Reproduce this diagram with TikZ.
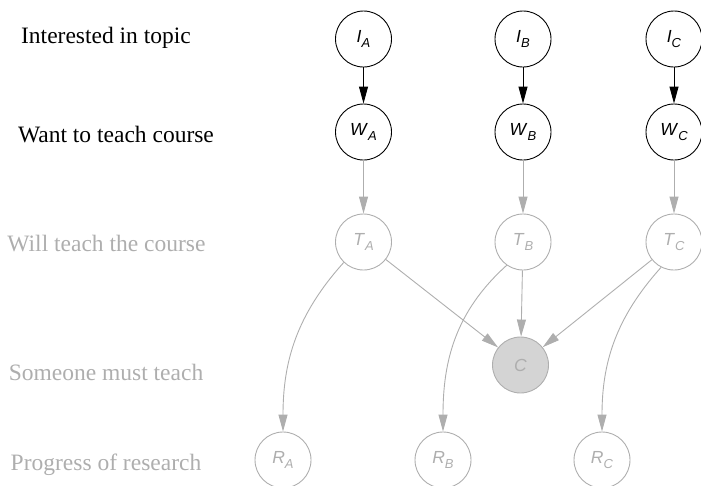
\documentclass[tikz,border=0pt]{standalone}
\usepackage{fontspec}
\setmainfont{Liberation Serif}
\newfontfamily\nodefont{Liberation Sans}
\usetikzlibrary{arrows.meta}
\definecolor{fade}{HTML}{AEAEAE}
\definecolor{cfill}{HTML}{D4D4D4}
% variable name with an italic subscript
\newcommand{\nodelbl}[2]{\textit{#1}\raisebox{-0.3em}{\fontsize{13}{13}\selectfont\itshape #2}}
\begin{document}
\begin{tikzpicture}[x=1pt,y=-1pt,
  rv/.style={circle, draw=black, minimum size=56pt, inner sep=0pt, line width=0.9pt,
             font=\nodefont\fontsize{17.5}{17.5}\selectfont},
  hidden/.style={rv, draw=fade, text=fade},
  obs/.style={hidden, fill=cfill},
  link/.style={-{Triangle[length=17pt,width=9pt]}, line width=0.9pt},
  fadelink/.style={link, draw=fade},
  rowlabel/.style={anchor=base, inner sep=0pt, font=\fontsize{23.5}{23.5}\selectfont},
]
\useasboundingbox (0,0) rectangle (701,485);

% row captions
\node[rowlabel] (l1) at (106,43.3) {Interested in topic};
\node[rowlabel] (l2) at (116,142.7) {Want to teach course};
\node[rowlabel, text=fade] (l3) at (106.5,251.7) {Will teach the course};
\node[rowlabel, text=fade] (l4) at (106,380) {Someone must teach};
\node[rowlabel, text=fade] (l5) at (106,470) {Progress of research};

% interest
\node[rv] (IA) at (363.5,39) {\nodelbl{I}{A}};
\node[rv] (IB) at (523,39) {\nodelbl{I}{B}};
\node[rv] (IC) at (674,39) {\nodelbl{I}{C}};
% willingness
\node[rv] (WA) at (363.5,132) {\nodelbl{W}{A}};
\node[rv] (WB) at (523,132) {\nodelbl{W}{B}};
\node[rv] (WC) at (674,132) {\nodelbl{W}{C}};
% teaching
\node[hidden] (TA) at (363.5,242) {\nodelbl{T}{A}};
\node[hidden] (TB) at (523,242) {\nodelbl{T}{B}};
\node[hidden] (TC) at (674,242) {\nodelbl{T}{C}};
% constraint
\node[obs] (C) at (520.5,365) {\textit{C}};
% research
\node[hidden] (RA) at (283,460) {\nodelbl{R}{A}};
\node[hidden] (RB) at (443,460) {\nodelbl{R}{B}};
\node[hidden] (RC) at (602,460) {\nodelbl{R}{C}};

\draw[link] (IA) -- (WA);
\draw[link] (IB) -- (WB);
\draw[link] (IC) -- (WC);

\draw[fadelink] (WA) -- (TA);
\draw[fadelink] (WB) -- (TB);
\draw[fadelink] (WC) -- (TC);

\draw[fadelink] (TA) -- (C);
\draw[fadelink] (TB) -- (C);
\draw[fadelink] (TC) -- (C);

\draw[fadelink] (TA.226) to[out=228, in=90] (RA);
\draw[fadelink] (TB.235) to[out=222, in=90] (RB);
\draw[fadelink] (TC.243) to[out=228, in=90] (RC);
\end{tikzpicture}
\end{document}
